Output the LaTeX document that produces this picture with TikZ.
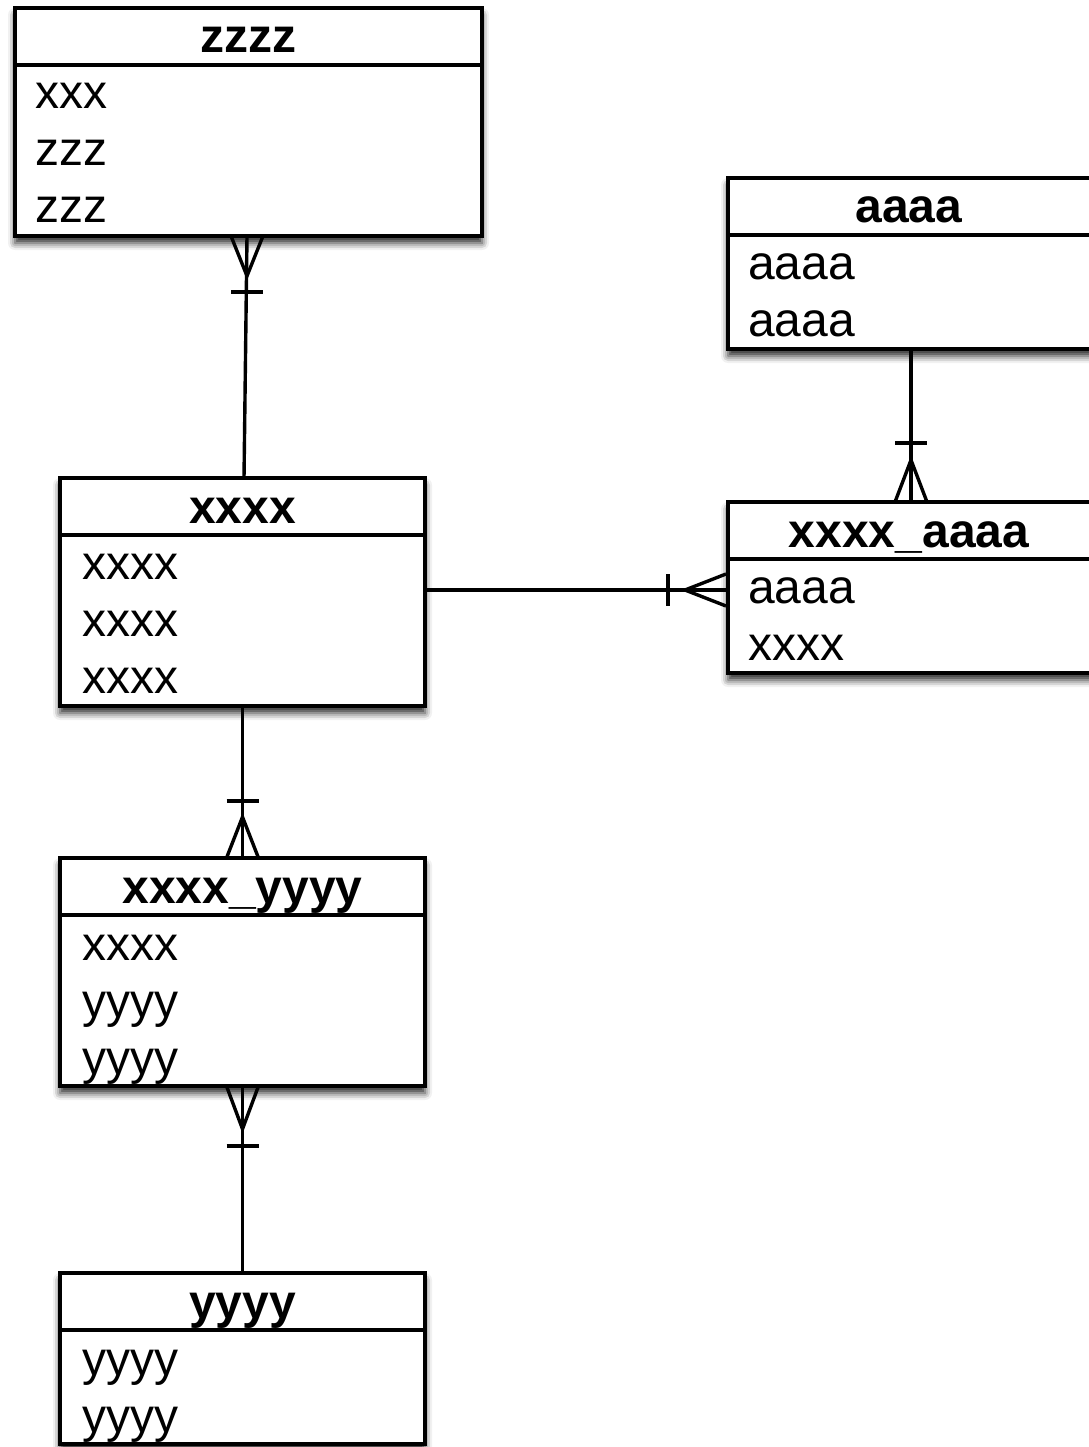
\documentclass[tikz,border=0pt]{standalone}
\usepackage{fontspec}
\setmainfont{Liberation Sans}
\usetikzlibrary{shadows.blur,calc}
\tikzset{
  ent/.style={draw, line width=3.5pt, fill=white, rectangle, inner sep=0pt, outer sep=0pt, anchor=north west,
    blur shadow={shadow xshift=0pt, shadow yshift=-7pt, shadow blur radius=7pt, shadow opacity=85}},
  hdr/.style={anchor=base, inner sep=0pt, font=\fontsize{48}{57}\selectfont\bfseries},
  fld/.style={anchor=base west, inner sep=0pt, font=\fontsize{48}{57}\selectfont},
  sepline/.style={line width=3.2pt},
  rel/.style={line width=3.4pt},
}
\begin{document}
\begin{tikzpicture}[x=1pt,y=-1pt]
\useasboundingbox (0,0) rectangle (1088,1447);

% ---- zzzz
\node[ent, minimum width=467, minimum height=228] (zzzz) at (15,8) {};
\draw[sepline] ($(zzzz.north west)+(0,57)$) -- ($(zzzz.north east)+(0,57)$);
\node[hdr] (zzzzt) at (248.5,53) {zzzz};
\node[fld] (zzzz1) at (35,109) {xxx};
\node[fld] (zzzz2) at (35,166) {zzz};
\node[fld] (zzzz3) at (35,223) {zzz};

% ---- aaaa
\node[ent, minimum width=368, minimum height=171] (aaaa) at (728,178) {};
\draw[sepline] ($(aaaa.north west)+(0,57)$) -- ($(aaaa.north east)+(0,57)$);
\node[hdr] (aaaat) at (909,223) {aaaa};
\node[fld] (aaaa1) at (748,279) {aaaa};
\node[fld] (aaaa2) at (748,336) {aaaa};

% ---- xxxx
\node[ent, minimum width=365, minimum height=228] (xxxx) at (60,478) {};
\draw[sepline] ($(xxxx.north west)+(0,57)$) -- ($(xxxx.north east)+(0,57)$);
\node[hdr] (xxxxt) at (242.5,523) {xxxx};
\node[fld] (xxxx1) at (82,579) {xxxx};
\node[fld] (xxxx2) at (82,636) {xxxx};
\node[fld] (xxxx3) at (82,693) {xxxx};

% ---- xxxx_aaaa
\node[ent, minimum width=368, minimum height=171] (xa) at (728,502) {};
\draw[sepline] ($(xa.north west)+(0,57)$) -- ($(xa.north east)+(0,57)$);
\node[hdr] (xat) at (909,547) {xxxx\_aaaa};
\node[fld] (xa1) at (748,603) {aaaa};
\node[fld] (xa2) at (748,660) {xxxx};

% ---- xxxx_yyyy
\node[ent, minimum width=365, minimum height=228] (xy) at (60,858) {};
\draw[sepline] ($(xy.north west)+(0,57)$) -- ($(xy.north east)+(0,57)$);
\node[hdr] (xyt) at (242.5,903) {xxxx\_yyyy};
\node[fld] (xy1) at (82,960) {xxxx};
\node[fld] (xy2) at (82,1017) {yyyy};
\node[fld] (xy3) at (82,1074) {yyyy};

% ---- yyyy
\node[ent, minimum width=365, minimum height=171] (yyyy) at (60,1273) {};
\draw[sepline] ($(yyyy.north west)+(0,57)$) -- ($(yyyy.north east)+(0,57)$);
\node[hdr] (yyyyt) at (242.5,1318) {yyyy};
\node[fld] (yyyy1) at (82,1375) {yyyy};
\node[fld] (yyyy2) at (82,1432) {yyyy};

% ---- connectors
% zzzz (many) -- xxxx (one)
\coordinate (c1a) at ($(zzzz.south)+(-1.5,0)$);
\coordinate (c1b) at ($(xxxx.north)+(1.5,0)$);
\draw[rel] (c1a) -- (c1b);
\draw[rel] ($(c1a)+(-16,0)$) -- ($(c1a)+(0,40)$) -- ($(c1a)+(16,0)$);
\draw[rel] ($(c1a)+(-16,56)$) -- ($(c1a)+(16,56)$);

% aaaa (one) -- xxxx_aaaa (many)
\coordinate (c2a) at ($(aaaa.south)+(-1,0)$);
\coordinate (c2b) at ($(xa.north)+(-1,0)$);
\draw[rel] (c2a) -- (c2b);
\draw[rel] ($(c2b)+(-16,0)$) -- ($(c2b)+(0,-42)$) -- ($(c2b)+(16,0)$);
\draw[rel] ($(c2b)+(-16,-59)$) -- ($(c2b)+(16,-59)$);

% xxxx (one) -- xxxx_aaaa (many)
\coordinate (c3a) at ($(xxxx.east)+(0,-2)$);
\coordinate (c3b) at (xa.west |- c3a);
\draw[rel] (c3a) -- (c3b);
\draw[rel] ($(c3b)+(-2,-16)$) -- ($(c3b)+(-43,0)$) -- ($(c3b)+(-2,16)$);
\draw[rel] ($(c3b)+(-60,-16)$) -- ($(c3b)+(-60,16)$);

% xxxx (one) -- xxxx_yyyy (many)
\coordinate (c4a) at (xxxx.south);
\coordinate (c4b) at (xy.north);
\draw[rel] (c4a) -- (c4b);
\draw[rel] ($(c4b)+(-16,0)$) -- ($(c4b)+(0,-41)$) -- ($(c4b)+(16,0)$);
\draw[rel] ($(c4b)+(-16,-57)$) -- ($(c4b)+(16,-57)$);

% xxxx_yyyy (many) -- yyyy (one)
\coordinate (c5a) at (xy.south);
\coordinate (c5b) at (yyyy.north);
\draw[rel] (c5a) -- (c5b);
\draw[rel] ($(c5a)+(-16,0)$) -- ($(c5a)+(0,43)$) -- ($(c5a)+(16,0)$);
\draw[rel] ($(c5a)+(-16,60)$) -- ($(c5a)+(16,60)$);
\end{tikzpicture}
\end{document}
